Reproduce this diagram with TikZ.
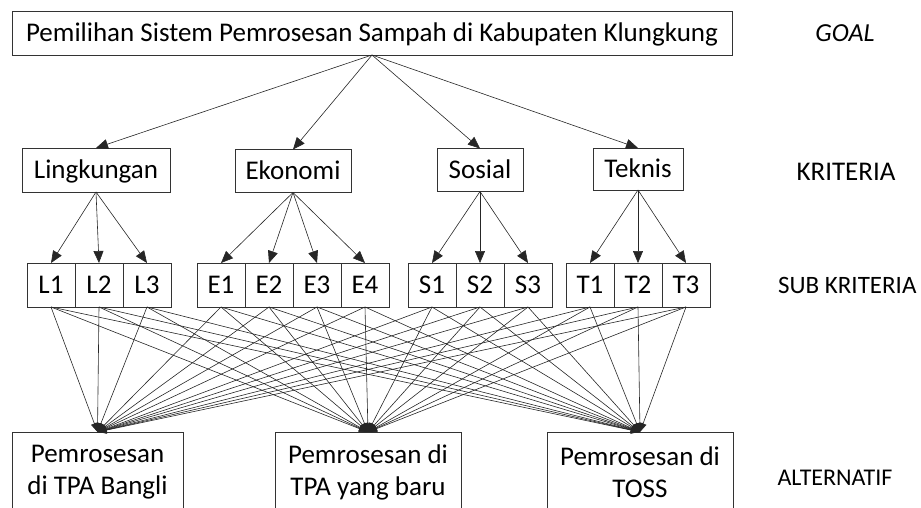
\documentclass[tikz,border=0pt]{standalone}
\usepackage{fontspec}
\setmainfont{Carlito}
\usetikzlibrary{arrows.meta,positioning}

\begin{document}
\begin{tikzpicture}[x=1pt,y=1pt,
  box/.style={draw=black!80,line width=0.9pt,inner sep=0pt,outer sep=0pt,
    text height=17pt,text depth=0pt,font=\fontsize{27}{32}\selectfont},
  subbox/.style={box,minimum width=48pt,minimum height=44pt},
  altbox/.style={draw=black!80,line width=0.9pt,inner sep=0pt,outer sep=0pt,
    align=center,anchor=north,minimum height=80pt,font=\fontsize{27}{32}\selectfont},
  level/.style={font=\fontsize{24}{29}\selectfont},
  link/.style={draw=black!85,line width=0.6pt,-{Triangle[length=12pt,width=10pt]}},
  altlink/.style={draw=black!85,line width=0.6pt,-{Triangle[length=9pt,width=7pt]}}]

\useasboundingbox (0,0) rectangle (921,-508);

% goal
\node[box,minimum width=720pt,minimum height=44pt] (goal) at (372,-33) {Pemilihan Sistem Pemrosesan Sampah di Kabupaten Klungkung};

% kriteria
\node[box,minimum width=148pt,minimum height=44pt] (ling) at (96,-170) {Lingkungan};
\node[box,minimum width=116pt,minimum height=43pt] (eko) at (293,-171) {Ekonomi};
\node[box,minimum width=86pt,minimum height=43pt] (sos) at (480,-170) {Sosial};
\node[box,minimum width=90pt,minimum height=42pt] (tek) at (638,-169) {Teknis};

% sub kriteria
\node[subbox] (L1) at (51,-285) {L1};
\node[subbox,right=0pt of L1] (L2) {L2};
\node[subbox,right=0pt of L2] (L3) {L3};
\node[subbox] (E1) at (221,-285) {E1};
\node[subbox,right=0pt of E1] (E2) {E2};
\node[subbox,right=0pt of E2] (E3) {E3};
\node[subbox,right=0pt of E3] (E4) {E4};
\node[subbox] (S1) at (432,-285) {S1};
\node[subbox,right=0pt of S1] (S2) {S2};
\node[subbox,right=0pt of S2] (S3) {S3};
\node[subbox] (T1) at (590,-285) {T1};
\node[subbox,right=0pt of T1] (T2) {T2};
\node[subbox,right=0pt of T2] (T3) {T3};

% alternatif
\node[altbox,minimum width=171pt] (alt1) at (97.5,-432) {Pemrosesan\\di TPA Bangli};
\node[altbox,minimum width=186pt] (alt2) at (368,-432) {Pemrosesan di\\TPA yang baru};
\node[altbox,minimum width=186pt] (alt3) at (640,-432) {Pemrosesan di\\TOSS};

% level labels
\node[level,font=\fontsize{26}{31}\selectfont\itshape] (lvgoal) at (845,-33) {GOAL};
\node[level,font=\fontsize{27}{32}\selectfont] (lvkrit) at (846,-172) {KRITERIA};
\node[level,font=\fontsize{25}{30}\selectfont,anchor=east] (lvsub) at (920,-285) {SUB KRITERIA};
\node[level] (lvalt) at (835,-478) {ALTERNATIF};

% connectors
\foreach \k in {ling,eko,sos,tek}
  \draw[link] (goal.south) -- (\k.north);
\foreach \s in {L1,L2,L3}
  \draw[link] (ling.south) -- (\s.north);
\foreach \s in {E1,E2,E3,E4}
  \draw[link] (eko.south) -- (\s.north);
\foreach \s in {S1,S2,S3}
  \draw[link] (sos.south) -- (\s.north);
\foreach \s in {T1,T2,T3}
  \draw[link] (tek.south) -- (\s.north);
\foreach \s in {L1,L2,L3,E1,E2,E3,E4,S1,S2,S3,T1,T2,T3}
  \foreach \a in {alt1,alt2,alt3}
    \draw[altlink] (\s.south) -- (\a.north);
\end{tikzpicture}
\end{document}
